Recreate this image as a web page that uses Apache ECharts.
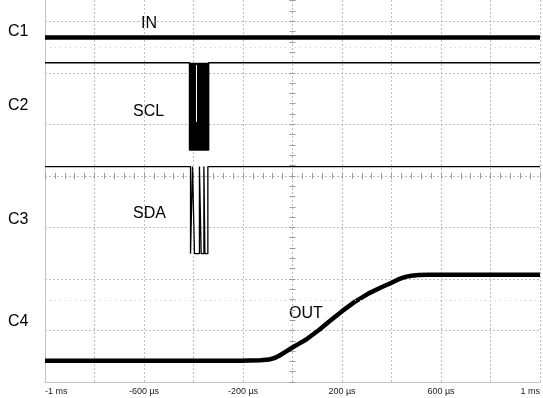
<!DOCTYPE html>
<html><head><meta charset="utf-8">
<script src="https://cdn.jsdelivr.net/npm/echarts@6/dist/echarts.min.js"></script>
<style>html,body{margin:0;padding:0;background:#fff}#c{width:543px;height:398px}</style>
</head><body><div id="c"></div><script>
// time axis (µs) and tick labels
const tickValues = [-1000, -600, -200, 200, 600, 1000];
const tickLabels = ['-1 ms', '-600 \u00b5s', '-200 \u00b5s', '200 \u00b5s', '600 \u00b5s', '1 ms'];
const channelNames = ['C1', 'C2', 'C3', 'C4'];
const traceNames = ['IN', 'SCL', 'SDA', 'OUT'];

// traces, vertical position in divisions (0 = centre); the screen is cut at the top
const yMin = -4;
const yMax = 3.413;
const inT = [-1000, 1000];
const inV = [2.686, 2.686];
const sclT = [-1000, -416, -416, -339, -339, 1000];
const sclV = [2.196, 2.196, 0.504, 0.504, 2.196, 2.196];
const sclBlock = [-416, -339];
const sclGapT = -389;
const sclGapV = [2.15, 1.047];
const sdaT = [-1000, -412, -412, -404, -404, -396, -396, -376, -376, -369, -369, -358, -358, -354, -354, -342, -342, 1000];
const sdaV = [0.18, 0.18, -1.51, -1.51, 0.18, 0.18, -1.51, -1.51, 0.18, 0.18, -1.51, -1.51, 0.18, 0.18, -1.51, -1.51, 0.18, 0.18];
const outT = [-1000, -500, -215, -130, -95, -70, -54, -30, -2, 25, 54, 107, 147, 199, 250, 308, 355, 400, 425, 441, 460, 481, 510, 549, 1000];
const outV = [-3.59, -3.588, -3.587, -3.58, -3.565, -3.53, -3.49, -3.42, -3.335, -3.26, -3.18, -2.99, -2.83, -2.63, -2.45, -2.28, -2.17, -2.075, -2.015, -1.985, -1.955, -1.937, -1.925, -1.92, -1.92];
const faintRows = [2.5, -2.42];

const zip = (t, v) => t.map((x, i) => [x, v[i]]);
const FONT = '"Liberation Sans", Arial, sans-serif';
const gridLine = { show: true, lineStyle: { color: '#bdbdbd', type: [2, 2], width: 1 } };

function centreX(inside) {
  return { type: 'value', min: -1000, max: 1000, interval: 200,
    axisLine: { show: false, onZero: true, onZeroAxisIndex: 0 },
    axisLabel: { show: false }, splitLine: { show: false },
    axisTick: { show: true, inside: inside, length: 3, lineStyle: { color: '#9a9a9a' } },
    minorTick: { show: true, splitNumber: 5, length: 3, lineStyle: { color: '#9a9a9a' } } };
}
function centreY(inside) {
  return { type: 'value', min: yMin, max: yMax, interval: 1,
    axisLine: { show: false, onZero: true, onZeroAxisIndex: 0 },
    axisLabel: { show: false }, splitLine: { show: false },
    axisTick: { show: true, inside: inside, length: 3, lineStyle: { color: '#9a9a9a' } },
    minorTick: { show: true, splitNumber: 5, length: 3, lineStyle: { color: '#9a9a9a' } } };
}

const chart = echarts.init(document.getElementById('c'), null, { renderer: 'canvas' });
const graphics = [];
const chY = [31.5, 106, 219.5, 321.5];
channelNames.forEach((n, i) => graphics.push({ type: 'text', x: 8, y: chY[i],
  style: { text: n, fontSize: 16, fontFamily: FONT, fill: '#000', verticalAlign: 'middle' } }));
const trPos = [[141, 24], [133, 112], [133, 214], [289, 314]];
traceNames.forEach((n, i) => graphics.push({ type: 'text', x: trPos[i][0], y: trPos[i][1],
  style: { text: n, fontSize: 16, fontFamily: FONT, fill: '#000', verticalAlign: 'middle' } }));

chart.setOption({
  animation: false,
  backgroundColor: '#fff',
  grid: { left: 45, right: 1, top: 0, bottom: 16 },
  xAxis: [
    { type: 'value', min: -1000, max: 1000, interval: 200,
      axisLine: { show: true, onZero: false, lineStyle: { color: '#c4c4c4' } },
      axisTick: { show: false }, splitLine: gridLine,
      axisLabel: { show: true, margin: 5, fontSize: 9, fontFamily: FONT, color: '#222',
        alignMinLabel: 'left', alignMaxLabel: 'right',
        formatter: v => { const i = tickValues.indexOf(v); return i >= 0 ? tickLabels[i] : ''; } } },
    centreX(false), centreX(true)
  ],
  yAxis: [
    { type: 'value', min: yMin, max: yMax, interval: 1,
      axisLine: { show: true, onZero: false, lineStyle: { color: '#c4c4c4' } },
      axisTick: { show: false }, axisLabel: { show: false },
      splitLine: { show: true, showMaxLine: false, lineStyle: { color: '#bdbdbd', type: [2, 2], width: 1 } } },
    centreY(false), centreY(true)
  ],
  graphic: graphics,
  series: [
    { type: 'line', name: 'IN', data: zip(inT, inV), symbol: 'none', lineStyle: { color: '#000', width: 4.5 },
      markLine: { silent: true, symbol: 'none', label: { show: false },
        lineStyle: { color: '#cfcfcf', type: [1, 4], width: 1 },
        data: faintRows.map(v => ({ yAxis: v })) } },
    { type: 'line', name: 'SCL', data: zip(sclT, sclV), symbol: 'none', lineStyle: { color: '#000', width: 1.5 },
      markArea: { silent: true, itemStyle: { color: '#000' },
        data: [[{ coord: [sclBlock[0], sclV[2]] }, { coord: [sclBlock[1], sclV[0]] }]] },
      markLine: { silent: true, symbol: 'none', label: { show: false }, lineStyle: { color: '#fff', width: 1, type: 'solid' },
        data: [[{ coord: [sclGapT, sclGapV[0]] }, { coord: [sclGapT, sclGapV[1]] }]] } },
    { type: 'line', name: 'SDA', data: zip(sdaT, sdaV), symbol: 'none', lineStyle: { color: '#000', width: 1.3 } },
    { type: 'line', name: 'OUT', data: zip(outT, outV), symbol: 'none',
      lineStyle: { color: '#000', width: 4.5, join: 'round' },
      markPoint: { silent: true, symbol: 'triangle', symbolSize: [6, 6], itemStyle: { color: '#000' },
        label: { show: false }, data: [{ coord: [0, -4.07] }] } }
  ]
});
</script></body></html>
